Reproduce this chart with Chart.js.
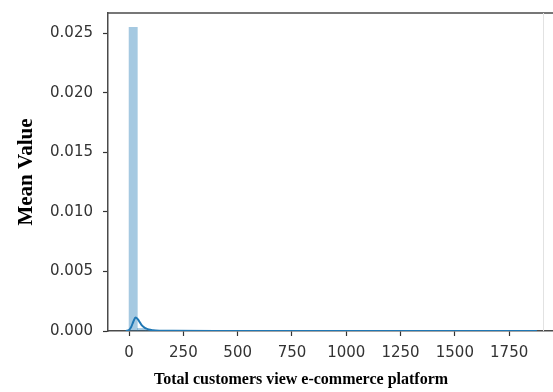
<!DOCTYPE html>
<html>
<head>
<meta charset="utf-8">
<script src="https://cdn.jsdelivr.net/npm/chart.js@4/dist/chart.umd.min.js"></script>
<style>
  html, body { margin: 0; padding: 0; background: #ffffff; }
  #wrap { width: 553px; height: 392px; }
</style>
</head>
<body>
<div id="wrap"><canvas id="c" width="553" height="392"></canvas></div>
<script>
// Histogram: bins start at 0, each 38 customers wide (density values)
const binStart = 0;
const binWidth = 38;
const histDensity = [
  0.0255, 0.00022, 0.00006, 0.00003, 0.00002, 0.00002, 0.00001, 0.00001, 0.00001, 0.00001,
  0.00001, 0.00001, 0.00001, 0.00001, 0.00001, 0.00001, 0.00001, 0.00001, 0.00001, 0.00001,
  0.00001, 0.00001, 0.00001, 0.00001, 0.00001, 0.00001, 0.00001, 0.00001, 0.00001, 0.00001,
  0.00001, 0.00001, 0.00001, 0.00001, 0.00001, 0.00001, 0.00001, 0.00001, 0.00001, 0.00001,
  0.00001, 0.00001, 0.00001, 0.00001, 0.00001, 0.00001, 0.00001, 0.00001, 0.00001
];

// Kernel density estimate curve
const kdeX = [-15, 0, 10, 20, 30, 40, 50, 60, 75, 90, 110, 140, 200, 400, 1000, 1500, 1878];
const kdeY = [0, 0.00008, 0.00035, 0.0008, 0.00113, 0.001, 0.00072, 0.00045, 0.00024, 0.00012, 0.00006, 0.00003, 0.00002, 0.00001, 0.000005, 0.000003, 0];

// Axis ticks and labels
const xTicks = [0, 250, 500, 750, 1000, 1250, 1500, 1750];
const yTicks = [0, 0.005, 0.010, 0.015, 0.020, 0.025];
const xTitle = 'Total customers view e-commerce platform';
const yTitle = 'Mean Value';

const histPoints = histDensity.map((d, i) => ({ x: binStart + binWidth * (i + 0.5), y: d }));
const kdePoints = kdeX.map((x, i) => ({ x: x, y: kdeY[i] }));

const frame = {
  id: 'frame',
  afterDraw(chart) {
    const ctx = chart.ctx;
    const a = chart.chartArea;
    ctx.save();
    // top spine
    ctx.strokeStyle = '#4a4a4a';
    ctx.lineWidth = 1.5;
    ctx.beginPath();
    ctx.moveTo(a.left, a.top);
    ctx.lineTo(chart.width, a.top);
    ctx.stroke();
    // faint right spine
    ctx.strokeStyle = '#e2e2e2';
    ctx.lineWidth = 1;
    ctx.beginPath();
    ctx.moveTo(a.right - 9.5, a.top);
    ctx.lineTo(a.right - 9.5, a.bottom);
    ctx.stroke();
    // x-axis title
    ctx.fillStyle = '#000000';
    ctx.font = 'bold 16px "Liberation Serif", "Times New Roman", serif';
    ctx.textAlign = 'center';
    ctx.textBaseline = 'alphabetic';
    ctx.fillText(xTitle, a.left + 193, 384);
    ctx.restore();
  }
};

new Chart(document.getElementById('c'), {
  type: 'bar',
  data: {
    datasets: [
      {
        type: 'line',
        label: 'KDE',
        data: kdePoints,
        borderColor: '#1f77b4',
        borderWidth: 2,
        pointRadius: 0,
        fill: false,
        cubicInterpolationMode: 'monotone',
        order: 0
      },
      {
        type: 'bar',
        label: 'Histogram',
        data: histPoints,
        backgroundColor: 'rgba(31,119,180,0.4)',
        borderWidth: 0,
        barPercentage: 1,
        categoryPercentage: 1,
        order: 1
      }
    ]
  },
  options: {
    responsive: false,
    animation: false,
    devicePixelRatio: 1,
    layout: { padding: { top: 13, left: 0, right: 0, bottom: 0 } },
    plugins: {
      legend: { display: false },
      tooltip: { enabled: false }
    },
    scales: {
      x: {
        type: 'linear',
        min: -97,
        max: 1952,
        offset: false,
        afterBuildTicks(scale) { scale.ticks = xTicks.map(v => ({ value: v })); },
        afterFit(scale) {
          scale.height = 61;
          scale.paddingLeft = 0;
          scale.paddingRight = 0;
        },
        grid: {
          display: true,
          drawOnChartArea: false,
          drawTicks: true,
          tickLength: 5,
          tickWidth: 1.2,
          tickColor: '#333333',
          offset: false
        },
        border: { display: true, color: '#4a4a4a', width: 1.5 },
        ticks: {
          color: '#333333',
          padding: 8,
          maxRotation: 0,
          autoSkip: false,
          font: { family: '"DejaVu Sans", sans-serif', size: 15 },
          callback: v => String(v)
        }
      },
      y: {
        type: 'linear',
        min: 0,
        max: 0.0267,
        afterBuildTicks(scale) { scale.ticks = yTicks.map(v => ({ value: v })); },
        afterFit(scale) {
          scale.width = 108;
          scale.paddingTop = 0;
          scale.paddingBottom = 0;
        },
        grid: {
          display: true,
          drawOnChartArea: false,
          drawTicks: true,
          tickLength: 5,
          tickWidth: 1.2,
          tickColor: '#333333'
        },
        border: { display: true, color: '#4a4a4a', width: 1.5 },
        title: {
          display: true,
          text: yTitle,
          color: '#000000',
          font: { family: '"Liberation Serif", "Times New Roman", serif', size: 21, weight: 'bold' },
          padding: { top: 14, bottom: 0 }
        },
        ticks: {
          color: '#333333',
          padding: 10,
          autoSkip: false,
          font: { family: '"DejaVu Sans", sans-serif', size: 15 },
          callback: v => Number(v).toFixed(3)
        }
      }
    }
  },
  plugins: [frame]
});
</script>
</body>
</html>
